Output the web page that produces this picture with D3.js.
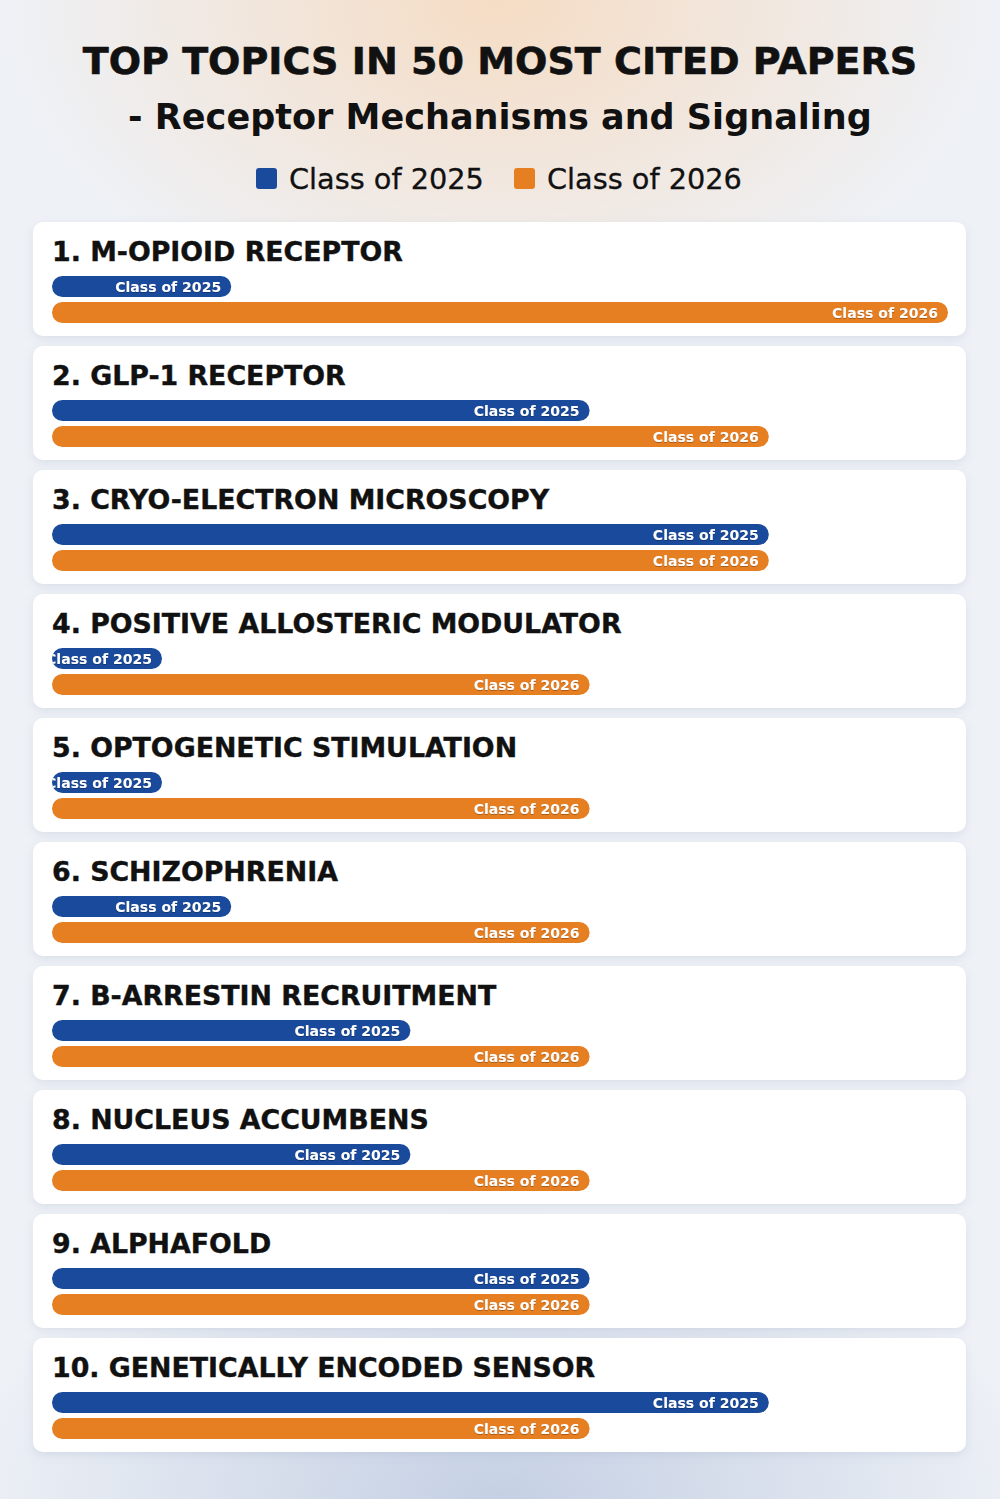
<!DOCTYPE html>
<html>
<head>
<meta charset="utf-8">
<script src="https://cdn.jsdelivr.net/npm/d3@7"></script>
<style>
  body { margin: 0; padding: 0; background: #eef1f6; }
  svg { display: block; }
</style>
</head>
<body>
<div id="chart"></div>
<script>
// Data
const topics = [
  "1. M-OPIOID RECEPTOR",
  "2. GLP-1 RECEPTOR",
  "3. CRYO-ELECTRON MICROSCOPY",
  "4. POSITIVE ALLOSTERIC MODULATOR",
  "5. OPTOGENETIC STIMULATION",
  "6. SCHIZOPHRENIA",
  "7. B-ARRESTIN RECRUITMENT",
  "8. NUCLEUS ACCUMBENS",
  "9. ALPHAFOLD",
  "10. GENETICALLY ENCODED SENSOR"
];
const class2025 = [1, 3, 4, 0, 0, 1, 2, 2, 3, 4];
const class2026 = [5, 4, 4, 3, 3, 3, 3, 3, 3, 3];
const seriesNames = ["Class of 2025", "Class of 2026"];
const colors = ["#1a4a9b", "#e67e22"];

const width = 1000, height = 1499;
const font = "'DejaVu Sans', sans-serif";

const svg = d3.select("#chart")
  .append("svg")
  .attr("width", width)
  .attr("height", height);

const defs = svg.append("defs");

// background glows
const warm = defs.append("radialGradient").attr("id", "warm")
  .attr("cx", "50%").attr("cy", "0%").attr("r", "50%")
  .attr("gradientTransform", "translate(0.5,0) scale(1,0.45) translate(-0.5,0)");
warm.append("stop").attr("offset", "0%").attr("stop-color", "#f5dcc4").attr("stop-opacity", 1);
warm.append("stop").attr("offset", "100%").attr("stop-color", "#f5dcc4").attr("stop-opacity", 0);

const cool = defs.append("radialGradient").attr("id", "cool")
  .attr("cx", "50%").attr("cy", "100%").attr("r", "55%")
  .attr("gradientTransform", "translate(0.5,1) scale(1,0.35) translate(-0.5,-1)");
cool.append("stop").attr("offset", "0%").attr("stop-color", "#c5d0e4").attr("stop-opacity", 1);
cool.append("stop").attr("offset", "100%").attr("stop-color", "#c5d0e4").attr("stop-opacity", 0);

svg.append("rect").attr("width", width).attr("height", height).attr("fill", "#eef1f6");
svg.append("rect").attr("width", width).attr("height", height).attr("fill", "url(#warm)");
svg.append("rect").attr("width", width).attr("height", height).attr("fill", "url(#cool)");

// card shadow
const shadow = defs.append("filter").attr("id", "shadow")
  .attr("x", "-5%").attr("y", "-20%").attr("width", "110%").attr("height", "150%");
shadow.append("feDropShadow").attr("dx", 0).attr("dy", 3).attr("stdDeviation", 4)
  .attr("flood-color", "#8090b0").attr("flood-opacity", 0.18);

const labelShadow = defs.append("filter").attr("id", "lblshadow");
labelShadow.append("feDropShadow").attr("dx", 0).attr("dy", 0.6).attr("stdDeviation", 0.6)
  .attr("flood-color", "#000").attr("flood-opacity", 0.45);

// scale text so it spans a given width
function fitWidth(sel, target) {
  const w = sel.node().getComputedTextLength();
  const fs = parseFloat(sel.attr("font-size"));
  sel.attr("font-size", fs * target / w);
  return fs * target / w;
}

// Title
const t1 = svg.append("text")
  .attr("x", width / 2).attr("y", 74)
  .attr("text-anchor", "middle")
  .attr("font-family", font).attr("font-weight", "bold")
  .attr("font-size", 36).attr("fill", "#111")
  .attr("stroke", "#111").attr("stroke-width", 0.6)
  .text("TOP TOPICS IN 50 MOST CITED PAPERS");
fitWidth(t1, 835);

const t2 = svg.append("text")
  .attr("x", width / 2).attr("y", 129)
  .attr("text-anchor", "middle")
  .attr("font-family", font).attr("font-weight", "bold")
  .attr("font-size", 36).attr("fill", "#111")
  .text("- Receptor Mechanisms and Signaling");
fitWidth(t2, 744);

// Legend
const legendX = [256, 514];
seriesNames.forEach((name, i) => {
  svg.append("rect")
    .attr("x", legendX[i]).attr("y", 168)
    .attr("width", 21).attr("height", 21).attr("rx", 3)
    .attr("fill", colors[i]);
  const lt = svg.append("text")
    .attr("x", legendX[i] + 33).attr("y", 189)
    .attr("font-family", font)
    .attr("font-size", 28).attr("fill", "#111")
    .attr("stroke", "#111").attr("stroke-width", 0.3)
    .text(name);
  fitWidth(lt, 195);
});

// Bars
const x = d3.scaleLinear().domain([0, 5]).range([52, 948]);
const minBar = 110;
const barH = 21;

const cardTop = 222, cardStep = 124, cardH = 114;

let titleSize = null;
let labelSize = null;

topics.forEach((topic, i) => {
  const g = svg.append("g").attr("transform", `translate(0,${cardTop + i * cardStep})`);
  g.append("rect")
    .attr("x", 33).attr("y", 0)
    .attr("width", 933).attr("height", cardH)
    .attr("rx", 10)
    .attr("fill", "#fff")
    .attr("filter", "url(#shadow)");

  const tt = g.append("text")
    .attr("x", 52).attr("y", 39)
    .attr("font-family", font).attr("font-weight", "bold")
    .attr("font-size", titleSize || 26).attr("fill", "#111")
    .attr("stroke", "#111").attr("stroke-width", 0.4)
    .text(topic);
  if (!titleSize) titleSize = fitWidth(tt, 351);

  [class2025[i], class2026[i]].forEach((v, s) => {
    const y0 = 54 + s * 26;
    const w = Math.max(x(v) - x(0), minBar);
    const id = `clip-${i}-${s}`;
    defs.append("clipPath").attr("id", id)
      .append("rect")
      .attr("x", x(0)).attr("y", y0)
      .attr("width", w).attr("height", barH)
      .attr("rx", barH / 2);

    g.append("rect")
      .attr("x", x(0)).attr("y", y0)
      .attr("width", w).attr("height", barH)
      .attr("rx", barH / 2)
      .attr("fill", colors[s]);

    const lbl = g.append("g").attr("clip-path", `url(#${id})`)
      .append("text")
      .attr("x", x(0) + w - 10).attr("y", y0 + barH / 2 + 5.5)
      .attr("text-anchor", "end")
      .attr("font-family", font).attr("font-weight", "bold")
      .attr("font-size", labelSize || 14).attr("fill", "#fff")
      .attr("filter", "url(#lblshadow)")
      .text(seriesNames[s]);
    if (!labelSize) labelSize = fitWidth(lbl, 106);
  });
});
</script>
</body>
</html>
